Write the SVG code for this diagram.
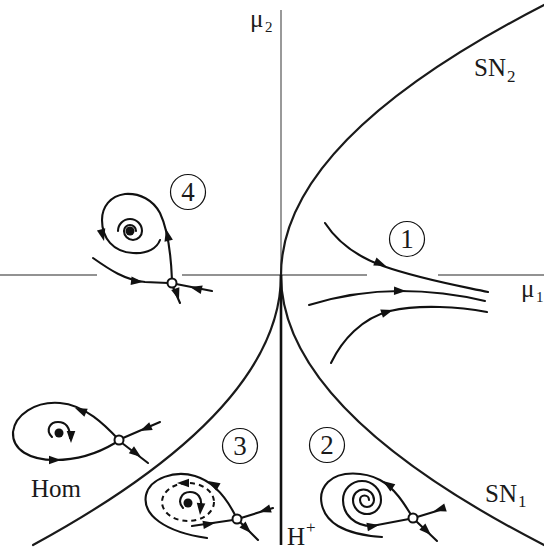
<svg xmlns="http://www.w3.org/2000/svg" xmlns:xlink="http://www.w3.org/1999/xlink" width="544" height="550" viewBox="0 0 544 550">
<style>
.axis{stroke:#6e6e6e;stroke-width:1.4;fill:none}
.cv{stroke:#1a1a1a;stroke-width:2.2;fill:none;stroke-linecap:round}
.tr{stroke:#111;stroke-width:2.1;fill:none;stroke-linecap:round}
.dash{stroke:#111;stroke-width:2;fill:none;stroke-dasharray:5 4}
.sad{fill:#fff;stroke:#111;stroke-width:2}
.dot{fill:#111}
.ah{fill:#111}
.num{stroke:#111;stroke-width:1.2;fill:#fff}
text{font-family:"Liberation Serif","Times New Roman",serif;fill:#1a1a1a}
.lbl{font-size:25px}
.sub{font-size:17px}
.mu{font-size:25px}
.musub{font-size:15px}
.dg{font-size:27px;text-anchor:middle}
</style>
<defs>
<path id="ah" class="ah" d="M0,0 L-12,-4.3 L-12,4.3 Z"/>
</defs>

<g id="axes">
<line class="axis" x1="0" y1="275" x2="97" y2="275"/>
<line class="axis" x1="182" y1="275" x2="367" y2="275"/>
<line class="axis" x1="438" y1="275" x2="544" y2="275"/>
<line class="axis" x1="281" y1="10" x2="281" y2="275"/>
</g>

<g id="connectors">
<path id="SN" class="cv" d="M544,5 Q18,275 544,545"/>
<path id="Hom" class="cv" d="M281,275 Q281,410 33,545"/>
<line id="Hplus" x1="281" y1="275" x2="281" y2="545" stroke="#111" stroke-width="2.6"/>
</g>

<g id="labels">
<text class="mu" x="250" y="27">μ</text><text class="musub" x="265" y="32">2</text>
<text class="mu" x="521" y="297">μ</text><text class="musub" x="536" y="302">1</text>
<text class="lbl" x="474" y="76">SN</text><text class="sub" x="507" y="82">2</text>
<text class="lbl" x="485" y="502">SN</text><text class="sub" x="518" y="507">1</text>
<text class="lbl" x="31" y="497">Hom</text>
<text class="lbl" x="287" y="545">H</text><text class="sub" x="306" y="533">+</text>
</g>

<g id="region1">
<circle class="num" cx="407" cy="239" r="17.5"/><text class="dg" x="407" y="248">1</text>
<path class="tr" d="M325,223 C338,243 358,257 383,266 C420,279 455,285 488,292"/>
<path class="tr" d="M309,305 C335,297 365,291 400,291 C430,291 460,295 485,301"/>
<path class="tr" d="M331,363 C342,340 362,318 390,311 C420,304 460,307 487,312"/>
<use xlink:href="#ah" transform="translate(386,266) rotate(22)"/>
<use xlink:href="#ah" transform="translate(406,291) rotate(1)"/>
<use xlink:href="#ah" transform="translate(393,310) rotate(-18)"/>
</g>

<g id="region4">
<circle class="num" cx="188" cy="192" r="17.5"/><text class="dg" x="188" y="201">4</text>
<path class="tr" d="M172,280 C171,255 168,230 160,213 C153,200 140,193 125,194 C110,196 102,207 102,220 C102,238 113,252 133,253 C148,254 157,248 160,240"/>
<path class="tr" d="M136,231 A6,6 0 0 0 124,231 A9,9 0 0 0 142,231 A12,12 0 0 0 118,231"/>
<circle class="dot" cx="130" cy="231" r="4.5"/>
<path class="tr" d="M93,258 C110,270 125,280 145,282 L168,283"/>
<path class="tr" d="M212,291 L176,284"/>
<path class="tr" d="M173,287 L180,303"/>
<circle class="sad" cx="172" cy="283" r="4.5"/>
<use xlink:href="#ah" transform="translate(166,229) rotate(-103)"/>
<use xlink:href="#ah" transform="translate(104,241) rotate(76)"/>
<use xlink:href="#ah" transform="translate(143,282) rotate(6)"/>
<use xlink:href="#ah" transform="translate(190,287) rotate(193)"/>
<use xlink:href="#ah" transform="translate(179,300) rotate(72)"/>
</g>

<g id="regionHom">
<path class="tr" d="M119,440 C105,425 85,405 60,403 C35,401 15,415 13,432 C12,450 30,460 55,460 C80,460 100,452 115,443"/>
<path class="tr" d="M52,437 C45,430 50,422 58,422 C66,422 70,428 70,438"/>
<circle class="dot" cx="59" cy="433" r="4.5"/>
<path class="tr" d="M160,422 L123,438"/>
<path class="tr" d="M122,443 L148,463"/>
<circle class="sad" cx="119" cy="440" r="4.5"/>
<use xlink:href="#ah" transform="translate(75,408) rotate(203)"/>
<use xlink:href="#ah" transform="translate(61,460) rotate(0)"/>
<use xlink:href="#ah" transform="translate(140,431) rotate(156)"/>
<use xlink:href="#ah" transform="translate(141,457) rotate(37)"/>
<use xlink:href="#ah" transform="translate(71,443) rotate(90)"/>
</g>

<g id="region3">
<circle class="num" cx="240" cy="446" r="17.5"/><text class="dg" x="240" y="455">3</text>
<path class="tr" d="M237,519 C228,500 215,482 195,476 C175,470 150,478 146,495 C142,515 165,532 207,538"/>
<ellipse class="dash" cx="188" cy="502" rx="26" ry="19"/>
<path class="tr" d="M183,508 C177,502 181,492 190,492 C198,492 202,498 201,506 L200,510"/>
<circle class="dot" cx="188" cy="503" r="4.5"/>
<path class="tr" d="M192,526 L233,520"/>
<path class="tr" d="M273,508 L241,518"/>
<path class="tr" d="M240,522 L258,540"/>
<circle class="sad" cx="237" cy="519" r="4.5"/>
<use xlink:href="#ah" transform="translate(208,481) rotate(210)"/>
<use xlink:href="#ah" transform="translate(215,523) rotate(-9)"/>
<use xlink:href="#ah" transform="translate(259,512) rotate(163)"/>
<use xlink:href="#ah" transform="translate(251,533) rotate(45)"/>
<use xlink:href="#ah" transform="translate(177,483) rotate(180)"/>
<use xlink:href="#ah" transform="translate(200,515) rotate(95)"/>
</g>

<g id="region2">
<circle class="num" cx="327" cy="445" r="17.5"/><text class="dg" x="327" y="454">2</text>
<path class="tr" d="M413,518 C405,505 395,488 380,480 C365,472 340,470 328,482 C316,494 320,515 338,526 C350,533 365,536 382,537"/>
<path class="tr" d="M369,500 A4.5,4.5 0 0 0 360,500 A7,7 0 0 0 374,500 A10.5,10.5 0 0 0 353,500 A14,14 0 0 0 381,500 A19,19 0 0 0 343,500 C343,515 355,526 372,526 L409,519"/>
<path class="tr" d="M440,510 L417,517"/>
<path class="tr" d="M416,521 L437,541"/>
<circle class="sad" cx="413" cy="518" r="4.5"/>
<use xlink:href="#ah" transform="translate(383,481) rotate(215)"/>
<use xlink:href="#ah" transform="translate(379,525) rotate(-10)"/>
<use xlink:href="#ah" transform="translate(434,511) rotate(163)"/>
<use xlink:href="#ah" transform="translate(431,535) rotate(44)"/>
</g>
</svg>
